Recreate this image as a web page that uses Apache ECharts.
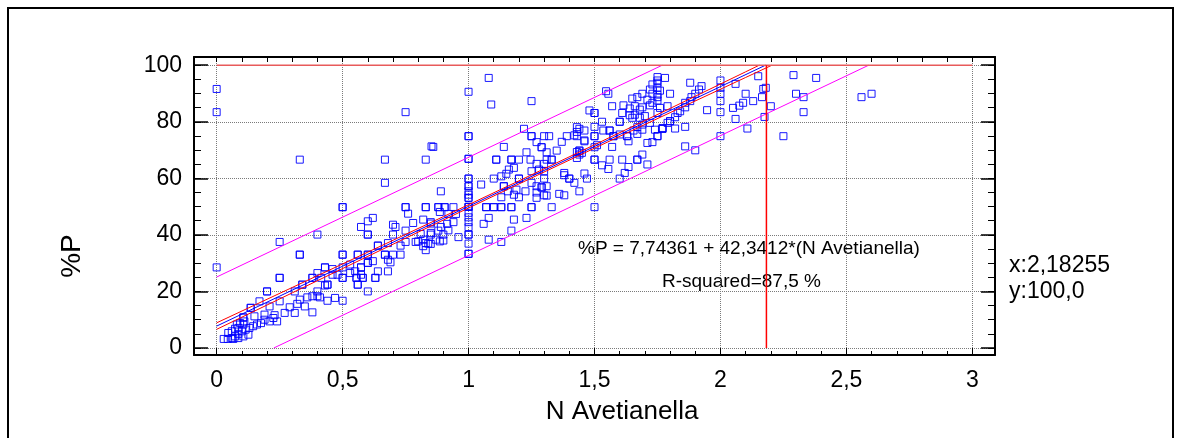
<!DOCTYPE html>
<html>
<head>
<meta charset="utf-8">
<script src="https://cdn.jsdelivr.net/npm/echarts@6/dist/echarts.min.js"></script>
<style>
  html, body { margin: 0; padding: 0; background: #fff; }
  #chart { width: 1181px; height: 438px; }
</style>
</head>
<body>
<div id="chart"></div>
<script>
// axis ticks / labels
const xMajor = [0, 0.5, 1, 1.5, 2, 2.5, 3];
const yMajor = [0, 20, 40, 60, 80, 100];
const xMinorStep = 0.1;
const yMinorStep = 5;

// fitted model (from the chart text)
const intercept = 7.74361;
const slope = 42.3412;
const rSquared = 87.5;
// band half widths
const confX = [0, 0.3, 0.6, 0.9, 1.2, 1.5, 1.8, 2.1, 2.4];
const confHalf = [1.15, 0.95, 0.75, 0.6, 0.55, 0.6, 0.75, 1.0, 1.25];
const predX = [0, 3];
const predHalf = [17.35, 17.35];

// cursor shown by the program
const cursorX = 2.18255;
const cursorY = 100;

// observations: [N Avetianella, %P]
const samples = [
  [0,91.6],[0,83.4],[0.33,66.6],[0.40,40.1],[0.25,37.5],[0.33,33.0],[0.33,33.0],[0,28.5],[0.25,24.8],[0.25,24.8],
  [0.40,26.5],[0.20,20.0],[0.20,20.0],[0.38,24.8],[0.38,24.8],[0.17,16.5],[0.135,14.2],[0.135,14.2],[0.106,10.8],[0.106,10.8],
  [0.34,22.4],[0.34,22.4],[0.31,20.0],[0.40,20.0],[0.38,18.3],[0.36,17.9],[0.33,17.1],[0.32,15.6],[0.29,14.4],[0.25,16.5],
  [0.21,14.7],[0.27,12.4],[0.31,12.4],[0.35,14.7],[0.38,12.6],[0.23,11.6],[0.24,9.4],[0.225,10.6],[0.21,9.4],[0.19,10.0],
  [0.176,8.8],[0.16,8.3],[0.145,7.7],[0.13,7.1],[0.115,6.5],[0.10,5.9],[0.086,5.0],[0.073,4.1],[0.06,3.5],[0.044,3.2],
  [0.028,3.2],[0.086,7.1],[0.073,6.8],[0.06,5.9],[0.046,5.3],[0.08,8.3],[0.093,8.8],[0.11,9.4],[0.126,4.7],[0.106,4.1],
  [0.086,3.5],[0.066,3.2],[0.106,8.3],[0.40,18.3],[0.15,11.2],[0.19,11.8],
  [0.75,83.4],[0.853,71.3],[0.668,66.6],[0.83,66.6],[0.668,58.4],[0.5,49.8],[0.5,49.8],[0.75,49.8],[0.75,49.8],[0.83,49.8],
  [0.83,49.8],[0.76,47.5],[0.62,46.0],[0.60,44.8],[0.573,42.8],[0.60,40.1],[0.60,40.1],[0.70,43.6],[0.71,42.8],[0.70,40.1],
  [0.75,41.5],[0.78,44.2],[0.82,45.4],[0.85,44.0],[0.81,40.3],[0.85,40.1],[0.79,37.5],[0.75,37.5],[0.73,36.2],[0.80,37.7],
  [0.82,38.3],[0.83,37.1],[0.84,36.9],[0.82,36.0],[0.83,34.6],[0.68,37.1],[0.64,36.2],[0.64,36.2],[0.668,33.0],[0.668,33.0],
  [0.73,33.0],[0.70,33.0],[0.68,31.2],[0.69,30.3],[0.62,30.7],[0.60,30.1],[0.60,30.1],[0.5,33.0],[0.5,33.0],[0.56,33.0],
  [0.56,33.0],[0.60,33.0],[0.60,33.0],[0.68,27.1],[0.64,27.1],[0.573,28.5],[0.573,28.5],[0.53,29.5],[0.5,28.5],[0.46,27.9],
  [0.43,28.5],[0.43,28.5],[0.48,25.9],[0.53,26.5],[0.55,27.1],[0.573,25.9],[0.555,24.8],[0.555,24.8],[0.58,24.8],[0.58,24.8],
  [0.63,24.8],[0.63,24.8],[0.5,24.8],[0.5,24.8],[0.415,24.8],[0.43,22.1],[0.44,22.4],[0.44,22.4],[0.41,17.9],[0.44,16.7],
  [0.47,17.7],[0.5,16.7],[0.56,22.4],[0.56,22.4],[0.60,20.0],[0.46,25.9],
  [1.08,95.5],[1.0,90.6],[1.09,86.1],[1.25,87.3],[1.22,77.5],[1.25,74.9],[1.25,74.9],[1.0,74.9],[1.0,74.9],[1.27,72.8],
  [1.30,74.9],[1.29,71.0],[1.29,71.0],[0.86,71.1],[1.14,71.1],[1.23,69.2],[1.0,66.9],[1.0,66.9],[1.11,66.6],[1.11,66.6],
  [1.17,66.6],[1.17,66.6],[1.20,66.6],[1.246,66.6],[1.27,65.1],[1.30,65.1],[1.18,63.7],[1.16,63.1],[1.15,61.6],[1.13,60.7],
  [1.10,59.9],[1.20,59.9],[1.20,59.9],[1.25,62.5],[1.28,63.1],[1.0,59.9],[1.0,59.9],[1.0,57.2],[1.0,57.2],[1.0,55.4],
  [1.0,54.2],[1.0,53.1],[1.0,53.1],[1.0,49.9],[1.0,49.9],[1.0,49.9],[1.0,47.8],[1.0,46.2],[1.0,44.5],[1.0,42.7],
  [1.0,40.1],[1.0,40.1],[1.0,36.9],[1.0,33.3],[1.0,33.3],[1.05,57.8],[1.14,57.2],[1.14,57.2],[1.156,55.4],[1.19,56.0],
  [1.226,55.4],[1.18,54.2],[1.20,53.3],[1.13,53.3],[1.25,58.4],[1.27,57.2],[1.29,56.8],[1.29,56.8],[1.27,55.0],[1.27,53.1],
  [1.30,54.0],[0.89,55.4],[1.07,49.8],[1.07,49.8],[1.10,49.8],[1.10,49.8],[1.13,49.8],[1.13,49.8],[1.17,49.8],[1.17,49.8],
  [1.25,49.8],[1.25,49.8],[0.88,49.8],[0.88,49.8],[0.905,49.8],[0.905,49.8],[0.94,49.8],[0.85,44.5],[0.886,48.1],[0.92,47.4],
  [0.95,47.4],[0.94,44.5],[0.915,43.9],[0.89,42.8],[0.92,41.6],[0.88,41.5],[0.85,40.7],[0.90,40.1],[0.87,38.3],[0.90,38.0],
  [0.85,36.8],[0.886,37.7],[0.96,39.2],[1.08,46.0],[1.06,43.9],[1.18,45.4],[1.23,46.0],[1.17,41.5],[1.08,38.3],[1.13,37.5],
  [1.546,90.8],[1.75,94.6],[1.73,93.2],[1.72,91.4],[1.69,89.9],[1.73,89.9],[1.67,88.7],[1.65,88.2],[1.71,87.8],[1.75,88.7],
  [1.73,86.7],[1.72,85.8],[1.69,85.1],[1.66,85.5],[1.68,84.3],[1.75,83.1],[1.555,89.9],[1.57,85.5],[1.615,85.8],[1.64,84.7],
  [1.61,83.1],[1.64,82.3],[1.65,81.4],[1.66,82.5],[1.68,81.4],[1.70,82.0],[1.72,79.6],[1.69,79.0],[1.67,78.1],[1.655,76.9],
  [1.48,84.0],[1.50,83.1],[1.50,83.1],[1.53,80.0],[1.60,80.0],[1.60,80.0],[1.50,78.2],[1.43,78.1],[1.44,77.5],[1.46,76.9],
  [1.43,76.4],[1.42,75.2],[1.39,74.9],[1.37,72.9],[1.32,74.9],[1.43,74.9],[1.46,73.4],[1.50,74.9],[1.50,74.9],[1.535,76.9],
  [1.56,76.9],[1.56,76.9],[1.575,74.9],[1.575,74.9],[1.60,75.5],[1.63,74.9],[1.63,74.9],[1.67,75.7],[1.69,77.2],[1.74,77.2],
  [1.75,74.9],[1.46,73.1],[1.31,69.2],[1.35,69.8],[1.43,69.3],[1.44,69.8],[1.44,69.8],[1.45,69.0],[1.50,71.0],[1.51,71.7],
  [1.57,71.1],[1.635,73.1],[1.71,72.5],[1.73,72.8],[1.31,66.6],[1.33,66.6],[1.33,66.6],[1.43,67.2],[1.44,68.4],[1.50,66.6],
  [1.50,66.6],[1.56,66.6],[1.61,66.6],[1.53,64.6],[1.555,63.3],[1.635,64.0],[1.62,61.9],[1.67,66.6],[1.67,66.6],[1.69,68.4],
  [1.71,64.9],[1.30,62.5],[1.38,61.9],[1.38,61.1],[1.40,59.9],[1.40,59.9],[1.42,58.4],[1.46,61.7],[1.47,59.9],[1.60,59.9],
  [1.30,59.9],[1.31,57.2],[1.44,55.4],[1.36,54.5],[1.38,54.0],[1.31,53.9],[1.33,49.8],[1.50,49.8],
  [1.75,95.8],[1.78,95.5],[1.75,93.8],[1.75,92.0],[1.76,91.0],[1.80,89.9],[1.75,89.6],[1.75,87.5],[1.79,85.5],[1.76,84.9],
  [1.88,93.8],[1.925,92.6],[1.915,91.4],[1.90,89.9],[1.885,88.7],[1.88,87.3],[1.86,86.7],[1.86,85.1],[1.84,83.7],[1.83,83.1],
  [1.82,81.6],[1.80,80.2],[1.80,80.2],[1.79,79.6],[1.77,77.8],[1.77,77.5],[1.77,77.5],[1.75,74.9],[1.82,77.6],[1.86,78.2],
  [1.86,71.3],[1.90,69.9],[2.0,94.6],[2.0,92.0],[2.0,89.9],[2.0,87.3],[2.0,83.4],[2.0,74.9],[1.947,84.1],[2.05,84.9],
  [2.06,93.4],[2.075,85.7],[2.09,86.7],[2.10,89.9],[2.13,87.3],[2.06,81.0],[2.107,77.6],[2.15,96.1],[2.17,91.6],[2.18,92.0],
  [2.165,88.7],[2.175,81.7],[2.20,85.5],
  [2.29,96.5],[2.38,95.5],[2.30,89.9],[2.33,88.7],[2.33,83.4],[2.25,74.9],[2.56,88.7],[2.60,89.9]
];

// frame extends a little beyond 0..3 and 0..100
const xMin = -0.09, xMax = 3.09;
const yMin = -2.48, yMax = 102.9;

function steps(from, to, step) {
  const out = [];
  for (let v = from; v <= to + 1e-9; v += step) out.push(+v.toFixed(4));
  return out;
}
const xMinor = steps(0, 3, xMinorStep);
const yMinor = steps(0, 100, yMinorStep);

const fmt = v => String(v).replace('.', ',');
const fit = x => intercept + slope * x;

// polyline of fit + offset, cut to the 0..100 range
function bandLine(xs, offsets) {
  const pts = xs.map((x, i) => [x, fit(x) + offsets[i]]);
  const out = [];
  for (let i = 0; i < pts.length - 1; i++) {
    const [x0, y0] = pts[i], [x1, y1] = pts[i + 1];
    if (y1 < 0 || y0 > 100) continue;
    const t0 = y0 < 0 ? (0 - y0) / (y1 - y0) : 0;
    const t1 = y1 > 100 ? (100 - y0) / (y1 - y0) : 1;
    const a = [x0 + (x1 - x0) * t0, y0 + (y1 - y0) * t0];
    const b = [x0 + (x1 - x0) * t1, y0 + (y1 - y0) * t1];
    if (!out.length) out.push(a);
    out.push(b);
  }
  return out;
}

const chart = echarts.init(document.getElementById('chart'));
const font = 'Liberation Sans, Arial, sans-serif';
const gridLine = { show: true, lineStyle: { color: '#7a7a7a', type: 'dotted', width: 1 } };

function lineSeries(data, color, width) {
  return {
    type: 'line', data: data, showSymbol: false, symbol: 'none', silent: true,
    lineStyle: { color: color, width: width || 1 }, z: 3
  };
}

const option = {
  animation: false,
  backgroundColor: '#fff',
  grid: { left: 194, right: 186, top: 57, bottom: 83 },
  xAxis: [
    {
      type: 'value', position: 'bottom', min: xMin, max: xMax,
      axisLine: { show: true, onZero: false, lineStyle: { color: '#000', width: 2 } },
      axisTick: { show: true, inside: true, length: 4, customValues: xMinor, lineStyle: { color: '#000' } },
      axisLabel: { show: false }, splitLine: { show: false }
    },
    {
      type: 'value', position: 'bottom', min: xMin, max: xMax,
      axisLine: { show: false, onZero: false },
      axisTick: { show: true, inside: true, length: 7, customValues: xMajor, lineStyle: { color: '#000' } },
      axisLabel: {
        customValues: xMajor, formatter: v => fmt(v), color: '#000',
        fontSize: 23, fontFamily: font, margin: 14
      },
      splitLine: gridLine
    },
    {
      type: 'value', position: 'top', min: xMin, max: xMax,
      axisLine: { show: true, onZero: false, lineStyle: { color: '#000', width: 2 } },
      axisTick: { show: true, inside: true, length: 5, customValues: xMinor, lineStyle: { color: '#000' } },
      axisLabel: { show: false }, splitLine: { show: false }
    }
  ],
  yAxis: [
    {
      type: 'value', position: 'left', min: yMin, max: yMax,
      axisLine: { show: true, onZero: false, lineStyle: { color: '#000', width: 2 } },
      axisTick: { show: true, inside: true, length: 7, customValues: yMinor, lineStyle: { color: '#000' } },
      axisLabel: { show: false }, splitLine: { show: false }
    },
    {
      type: 'value', position: 'left', min: yMin, max: yMax,
      axisLine: { show: false, onZero: false },
      axisTick: { show: true, inside: true, length: 14, customValues: yMajor, lineStyle: { color: '#000', width: 1.5 } },
      axisLabel: {
        customValues: yMajor, color: '#000', fontSize: 23, fontFamily: font, margin: 12
      },
      splitLine: gridLine
    },
    {
      type: 'value', position: 'right', min: yMin, max: yMax,
      axisLine: { show: true, onZero: false, lineStyle: { color: '#000', width: 2 } },
      axisTick: { show: true, inside: true, length: 7, customValues: yMinor, lineStyle: { color: '#000' } },
      axisLabel: { show: false }, splitLine: { show: false }
    },
    {
      type: 'value', position: 'right', min: yMin, max: yMax,
      axisLine: { show: false, onZero: false },
      axisTick: { show: true, inside: true, length: 14, customValues: yMajor, lineStyle: { color: '#000', width: 1.5 } },
      axisLabel: { show: false }, splitLine: { show: false }
    }
  ],
  series: [
    {
      type: 'scatter', data: samples, symbol: 'rect', symbolSize: 7, silent: true,
      itemStyle: { color: 'transparent', borderColor: '#0000ff', borderWidth: 1, opacity: 0.9 },
      z: 2
    },
    lineSeries(bandLine(predX, predHalf), '#ff00ff'),
    lineSeries(bandLine(predX, predHalf.map(h => -h)), '#ff00ff'),
    lineSeries(bandLine(confX, confHalf), '#ff0000'),
    lineSeries(bandLine(confX, confHalf.map(h => -h)), '#ff0000'),
    lineSeries(bandLine(predX, [0, 0]), '#0000ff'),
    lineSeries([[0, cursorY], [3, cursorY]], '#e85a5a', 1.5),
    lineSeries([[cursorX, 0], [cursorX, cursorY]], '#ff0000', 1.5)
  ],
  graphic: [
    {
      type: 'rect', silent: true,
      shape: { x: 8, y: 8, width: 1165, height: 460 },
      style: { fill: 'none', stroke: '#000', lineWidth: 2 }
    },
    {
      type: 'text', x: 578, y: 249, silent: true,
      style: {
        text: '%P = ' + fmt(intercept) + ' + ' + fmt(slope) + '*(N Avetianella)',
        fill: '#000', font: '19px ' + font, verticalAlign: 'middle'
      }
    },
    {
      type: 'text', x: 662, y: 282, silent: true,
      style: { text: 'R-squared=' + fmt(rSquared) + ' %', fill: '#000', font: '19px ' + font, verticalAlign: 'middle' }
    },
    {
      type: 'text', x: 1009, y: 266, silent: true,
      style: { text: 'x:' + fmt(cursorX), fill: '#000', font: '23px ' + font, verticalAlign: 'middle' }
    },
    {
      type: 'text', x: 1009, y: 292, silent: true,
      style: { text: 'y:' + fmt(cursorY.toFixed(1)), fill: '#000', font: '23px ' + font, verticalAlign: 'middle' }
    },
    {
      type: 'text', x: 622, y: 412, silent: true,
      style: { text: 'N Avetianella', fill: '#000', font: '26px ' + font, align: 'center', verticalAlign: 'middle' }
    },
    {
      type: 'text', x: 72, y: 256, rotation: Math.PI / 2, silent: true,
      style: { text: '%P', fill: '#000', font: '28px ' + font, align: 'center', verticalAlign: 'middle' }
    }
  ]
};

chart.setOption(option);
</script>
</body>
</html>
